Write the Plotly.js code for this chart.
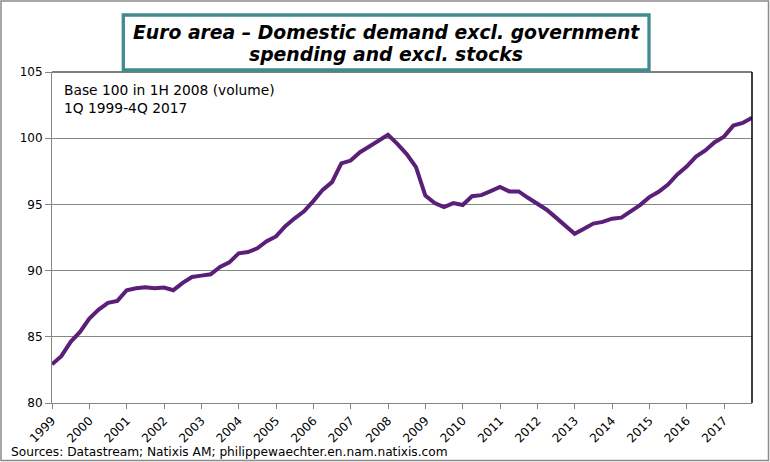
<!DOCTYPE html>
<html>
<head>
<meta charset="utf-8">
<script src="https://cdn.plot.ly/plotly-3.0.1.min.js"></script>
<style>
  html, body { margin: 0; padding: 0; background: #ffffff; }
  #chart { width: 770px; height: 462px; }
</style>
</head>
<body>
<div id="chart"></div>
<script>
// Year labels shown on the x axis (one label per first quarter)
var years = ["1999","2000","2001","2002","2003","2004","2005","2006","2007","2008",
             "2009","2010","2011","2012","2013","2014","2015","2016","2017"];
var quarterNames = ["1Q","2Q","3Q","4Q"];

// Domestic demand excl. government spending and excl. stocks, base 100 in 1H 2008 (volume), 1Q1999-4Q2017
var demandIndex = [
  82.92, 83.54, 84.62, 85.37,   // 1999
  86.38, 87.06, 87.56, 87.71,   // 2000
  88.52, 88.67, 88.74, 88.67,   // 2001
  88.72, 88.52, 89.07, 89.52,   // 2002
  89.62, 89.72, 90.27, 90.62,   // 2003
  91.30, 91.40, 91.68, 92.22,   // 2004
  92.58, 93.36, 93.95, 94.48,   // 2005
  95.25, 96.10, 96.68, 98.10,   // 2006
  98.31, 98.94, 99.37, 99.77,   // 2007
  100.25, 99.57, 98.80, 97.81,  // 2008
  95.67, 95.10, 94.80, 95.10,   // 2009
  94.95, 95.62, 95.70, 96.00,   // 2010
  96.32, 95.98, 95.98, 95.50,   // 2011
  95.05, 94.60, 94.00, 93.34,   // 2012
  92.78, 93.17, 93.55, 93.68,   // 2013
  93.92, 94.00, 94.50, 94.95,   // 2014
  95.55, 95.95, 96.50, 97.26,   // 2015
  97.86, 98.61, 99.07, 99.70,   // 2016
  100.12, 100.95, 101.15, 101.55 // 2017
];

var titleLines = ["Euro area – Domestic demand excl. government", "spending and excl. stocks"];
var noteLines = ["Base 100 in 1H 2008 (volume)", "1Q 1999-4Q 2017"];
var sourceText = "Sources: Datastream; Natixis AM; philippewaechter.en.nam.natixis.com";

var quarters = [];
years.forEach(function (y) { quarterNames.forEach(function (q) { quarters.push(q + y); }); });
var yearTickVals = years.map(function (y) { return "1Q" + y; });

var trace = {
  type: "scatter",
  mode: "lines",
  x: quarters,
  y: demandIndex,
  line: { color: "#5a1f78", width: 4 },
  hoverinfo: "x+y"
};

// pixel helpers for paper coordinates (plot area: x 52..752, y 72..403)
var L = 52, R = 752, T = 72, B = 403;
function px(x) { return (x - L) / (R - L); }
function py(y) { return (B - y) / (B - T); }

var titleFont = { family: "DejaVu Sans, Verdana, sans-serif", size: 18.8, color: "#000000" };
var textFont = { family: "DejaVu Sans, Verdana, sans-serif", size: 13.8, color: "#000000" };

var layout = {
  width: 770,
  height: 462,
  margin: { l: L, r: 770 - R, t: T, b: 462 - B, pad: 0 },
  paper_bgcolor: "#ffffff",
  plot_bgcolor: "#ffffff",
  showlegend: false,
  font: { family: "DejaVu Sans, Verdana, sans-serif", color: "#000000", size: 12 },
  xaxis: {
    type: "category",
    range: [0, quarters.length - 1],
    tickmode: "array",
    tickvals: yearTickVals,
    ticktext: years,
    tickangle: -45,
    ticks: "outside",
    ticklen: 5,
    tickcolor: "#868686",
    tickwidth: 1,
    showline: true,
    linecolor: "#868686",
    linewidth: 1,
    showgrid: false,
    zeroline: false,
    tickfont: { family: "DejaVu Sans, Verdana, sans-serif", size: 12, color: "#000000" },
    fixedrange: true
  },
  yaxis: {
    range: [80, 105],
    tickmode: "linear",
    tick0: 80,
    dtick: 5,
    ticks: "outside",
    ticklen: 6,
    tickcolor: "#868686",
    showline: true,
    linecolor: "#868686",
    linewidth: 1,
    showgrid: true,
    gridcolor: "#868686",
    gridwidth: 1,
    zeroline: false,
    tickfont: { family: "DejaVu Sans, Verdana, sans-serif", size: 12, color: "#000000" },
    fixedrange: true
  },
  shapes: [
    // plot-area top and right borders (black)
    { type: "line", xref: "paper", yref: "paper", x0: 0, x1: 1, y0: 1, y1: 1,
      line: { color: "#000000", width: 1 } },
    { type: "line", xref: "paper", yref: "paper", x0: 1, x1: 1, y0: 0, y1: 1,
      line: { color: "#000000", width: 1.5 } },
    // outer chart frame
    { type: "rect", xref: "paper", yref: "paper",
      x0: px(1), x1: px(768.5), y0: py(460.5), y1: py(1),
      line: { color: "#8a8a8a", width: 1.5 } },
    // title box
    { type: "rect", xref: "paper", yref: "paper",
      x0: px(123.3), x1: px(649), y0: py(70), y1: py(15),
      fillcolor: "#ffffff",
      line: { color: "#3f8b8e", width: 3.3 } }
  ],
  annotations: [
    {
      xref: "paper", yref: "paper",
      x: px(386), y: py(32.5), xanchor: "center", yanchor: "middle",
      text: "<b><i>" + titleLines[0] + "</i></b>",
      showarrow: false, font: titleFont
    },
    {
      xref: "paper", yref: "paper",
      x: px(386), y: py(54.5), xanchor: "center", yanchor: "middle",
      text: "<b><i>" + titleLines[1] + "</i></b>",
      showarrow: false, font: titleFont
    },
    {
      xref: "paper", yref: "paper",
      x: px(62), y: py(80), xanchor: "left", yanchor: "top",
      text: noteLines.join("<br>"),
      showarrow: false, align: "left",
      font: textFont
    },
    {
      xref: "paper", yref: "paper",
      x: px(9), y: py(452), xanchor: "left", yanchor: "middle",
      text: sourceText,
      showarrow: false, align: "left",
      font: { family: "DejaVu Sans, Verdana, sans-serif", size: 12.2, color: "#000000" }
    }
  ]
};

Plotly.newPlot("chart", [trace], layout, { displayModeBar: false, staticPlot: true });
</script>
</body>
</html>
